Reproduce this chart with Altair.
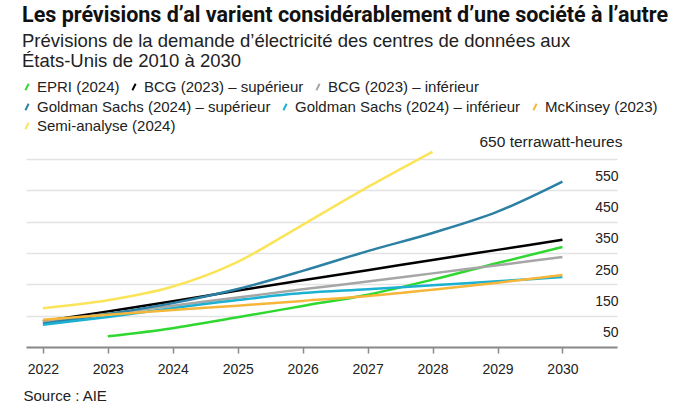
import altair as alt
import pandas as pd

years = [2022, 2023, 2024, 2025, 2026, 2027, 2028, 2029, 2030]

series_names = [
    "EPRI (2024)",
    "BCG (2023) – supérieur",
    "BCG (2023) – inférieur",
    "Goldman Sachs (2024) – supérieur",
    "Goldman Sachs (2024) – inférieur",
    "McKinsey (2023)",
    "Semi-analyse (2024)",
]
series_colors = ["#2fd82f", "#000000", "#a6a6a6", "#2b80a4", "#1cb0d2", "#f5b63a", "#fbe45a"]
legend_rows = [0, 0, 0, 1, 1, 1, 2]

epri = [None, 34, 60, 95, 131, 167, 215, 268, 319]
bcg_sup = [82, 113, 146, 180, 213, 245, 278, 310, 342]
bcg_inf = [80, 106, 132, 158, 184, 209, 235, 261, 287]
gs_sup = [74, 105, 140, 185, 243, 306, 364, 432, 528]
gs_inf = [71, 96, 124, 150, 172, 184, 197, 210, 223]
mckinsey = [87, 103, 118, 132, 147, 163, 183, 205, 230]
semi = [124, 149, 193, 272, 390, 510, 623, None, None]

all_values = [epri, bcg_sup, bcg_inf, gs_sup, gs_inf, mckinsey, semi]

grid_values = [0, 100, 200, 300, 400, 500, 600]

rows = []
for name, vals, lr in zip(series_names, all_values, legend_rows):
    for yr, v in zip(years, vals):
        if v is not None:
            rows.append({"annee": yr, "twh": v, "serie": name, "rang": lr})
df = pd.DataFrame(rows)

FONT = "Liberation Sans"

x_enc = alt.X(
    "annee:Q",
    scale=alt.Scale(domain=[2021.74, 2030.84], nice=False, zero=False),
    axis=alt.Axis(
        values=years,
        format="d",
        grid=False,
        title="Source : AIE",
        titleFont=FONT,
        titleFontSize=15,
        titleFontWeight="normal",
        titleColor="#222222",
        titleAlign="left",
        titleAnchor="start",
        titleBaseline="middle",
        titleX=-3,
        titleY=48,
        labelFont=FONT,
        labelFontSize=14,
        labelColor="#222222",
        labelPadding=9,
        domainColor="#8a8a8a",
        domainWidth=2,
        tickColor="#8a8a8a",
        tickWidth=1.5,
        tickSize=6,
    ),
)

y_enc = alt.Y(
    "twh:Q",
    scale=alt.Scale(domain=[0, 600], nice=False),
    axis=alt.Axis(
        orient="right",
        values=grid_values,
        labelExpr="datum.value == 0 ? '' : '' + (datum.value - 50)",
        labelOffset=17,
        labelAlign="right",
        labelPadding=1,
        labelFont=FONT,
        labelFontSize=14,
        labelColor="#222222",
        ticks=False,
        tickSize=0,
        domain=False,
        grid=True,
        gridColor="#e3e3e3",
        gridWidth=1.5,
        title="650 terrawatt-heures",
        titleAngle=0,
        titleAlign="right",
        titleBaseline="middle",
        titleX=5,
        titleY=-18,
        titleFont=FONT,
        titleFontSize=15.5,
        titleFontWeight="normal",
        titleColor="#222222",
    ),
)

legend_y = [-80, -60, -41]

layers = []
for r in range(3):
    names_r = [n for n, lr in zip(series_names, legend_rows) if lr == r]
    cols_r = [c for c, lr in zip(series_colors, legend_rows) if lr == r]
    layer = (
        alt.Chart(df[df["rang"] == r])
        .mark_line(strokeWidth=2.5, interpolate="monotone")
        .encode(
            x=x_enc,
            y=y_enc,
            color=alt.Color(
                "serie:N",
                scale=alt.Scale(domain=names_r, range=cols_r),
                legend=alt.Legend(
                    orient="none",
                    legendX=-7,
                    legendY=legend_y[r],
                    columns=len(names_r),
                    gridAlign="none",
                    direction="horizontal",
                    title=None,
                    symbolType="M-0.25,0.5L0.25,-0.5",
                    symbolStrokeWidth=2,
                    symbolSize=170,
                    labelFont=FONT,
                    labelFontSize=15,
                    labelColor="#222222",
                    labelLimit=0,
                    labelOffset=2,
                    columnPadding=6,
                ),
            ),
        )
    )
    layers.append(layer)

chart = (
    alt.layer(*layers)
    .resolve_scale(color="independent")
    .properties(
        width=591,
        height=188,
        title=alt.TitleParams(
            text="Les prévisions d’al varient considérablement d’une société à l’autre",
            subtitle=[
                "Prévisions de la demande d’électricité des centres de données aux",
                "États-Unis de 2010 à 2030",
            ],
            anchor="start",
            dx=3,
            font="Roboto",
            fontSize=21.5,
            fontWeight="bold",
            color="#111111",
            subtitleFont=FONT,
            subtitleFontSize=18.5,
            subtitleColor="#222222",
            subtitleLineHeight=20,
            subtitlePadding=5,
            offset=9,
        ),
        padding={"left": 19, "top": 5, "right": 5, "bottom": 5},
    )
    .configure_view(stroke=None)
)

chart.save("out.html", embed_options={"renderer": "svg", "actions": False})
